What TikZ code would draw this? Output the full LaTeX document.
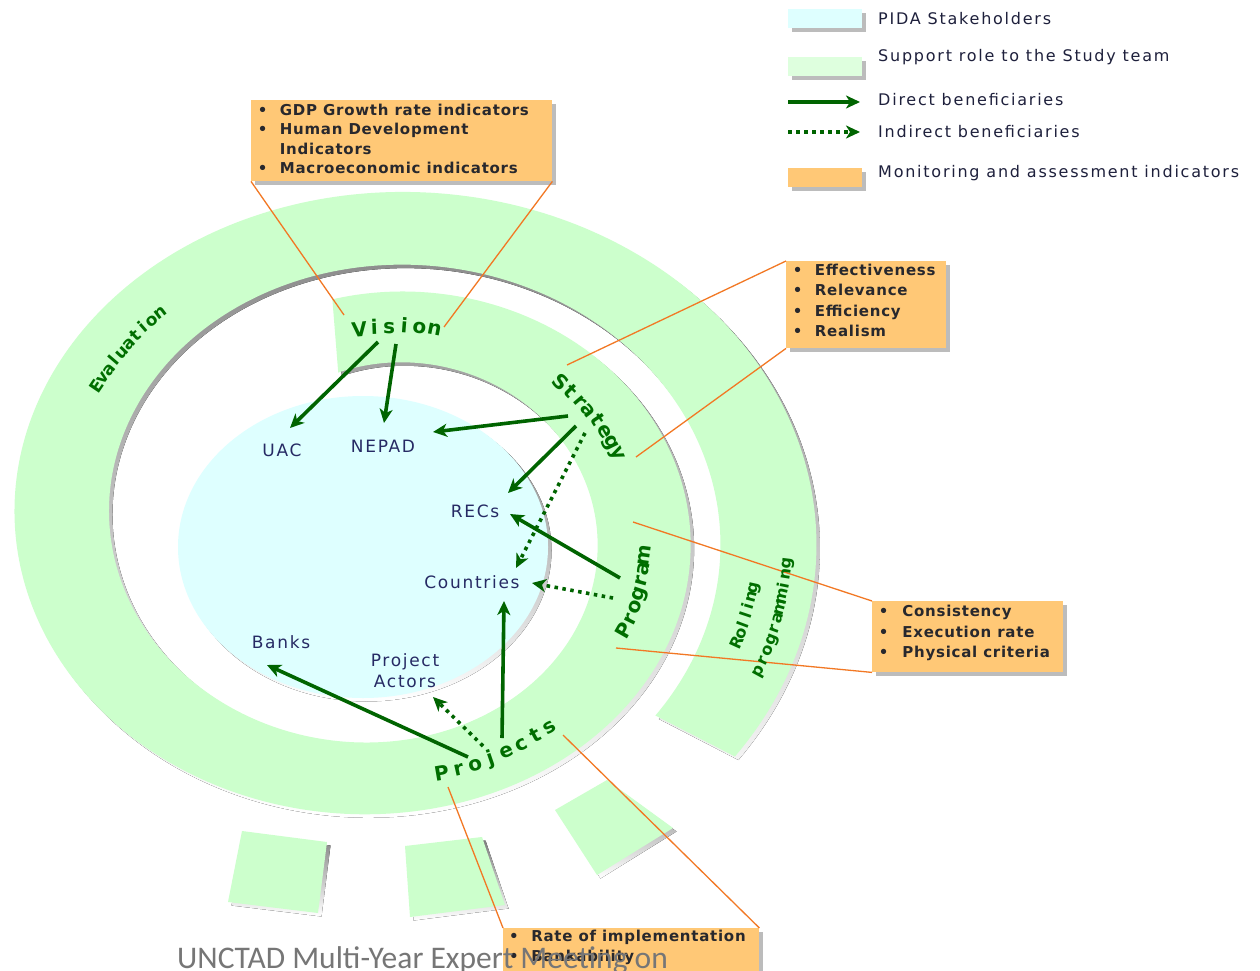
\documentclass[tikz,border=0pt]{standalone}
\usepackage{fontspec}
\setmainfont{DejaVu Sans}
\newfontfamily\legendfont{DejaVu Sans}[LetterSpace=11]
\newfontfamily\boxfont{DejaVu Sans}[LetterSpace=5]
\newfontfamily\actorfont{DejaVu Sans}[LetterSpace=10]
\newfontfamily\footfont{Carlito}
\usetikzlibrary{arrows.meta,shadows}

\definecolor{ringgreen}{RGB}{204,255,204}
\definecolor{swgreen}{RGB}{222,255,222}
\definecolor{stakecyan}{RGB}{222,255,255}
\definecolor{indorange}{RGB}{255,200,118}
\definecolor{leadorange}{RGB}{242,120,36}
\definecolor{arrowgreen}{RGB}{0,100,0}
\definecolor{ringtext}{RGB}{0,110,0}
\definecolor{actortext}{RGB}{38,42,100}
\definecolor{legendtext}{RGB}{30,32,60}
\definecolor{boxtext}{RGB}{40,40,45}
\definecolor{shade}{RGB}{188,188,188}
\definecolor{footgray}{RGB}{118,118,118}

\tikzset{
  direct/.style={draw=arrowgreen, line width=3.6pt, -{Stealth[length=14pt,width=13pt,inset=4pt]}},
  indirect/.style={direct, dash pattern=on 3.5pt off 4.5pt},
  lead/.style={draw=leadorange, line width=1.3pt},
  swatch/.style={anchor=north west, inner sep=0, minimum width=74, minimum height=19,
    drop shadow={shadow xshift=4pt, shadow yshift=-4pt, fill=shade, opacity=1}},
  indbox/.style={fill=indorange, anchor=north west, inner sep=0,
    drop shadow={shadow xshift=4pt, shadow yshift=-4pt, fill=shade, opacity=1}},
  boxtext/.style={anchor=base west, inner sep=0, font=\boxfont\bfseries, text=boxtext},
  legendlabel/.style={anchor=base west, inner sep=0, font=\legendfont\fontsize{16}{19}\selectfont, text=legendtext},
  actor/.style={inner sep=0, font=\actorfont\fontsize{17}{21}\selectfont, text=actortext, align=center},
  ringletter/.style={text=ringtext, inner sep=0, text height=12pt, text depth=0pt, anchor=center}
}

% spiral band: inner and outer edges, angle t measured clockwise from the top
\newcommand\spiralband[1]{%
  \fill[#1] plot[domain=-15:489,samples=400] ({384+rix(\x)*sin(\x)},{528-riy(\x)*cos(\x)})
    -- plot[domain=-11:488,samples=400] ({384+rox(477-\x)*sin(477-\x)},{528-roy(477-\x)*cos(477-\x)})
    -- cycle;}

% loose blocks continuing the spiral
\newcommand\ringpieces[1]{%
  \fill[#1] (242,831) -- (327,842) -- (318,913) -- (228,902) -- cycle;
  \fill[#1] (405,846) -- (482,837) -- (505,905) -- (410,917) -- cycle;
  \fill[#1] (555,810) -- (607,780) -- (673,828) -- (597,875) -- cycle;}

% letters set one by one along the band
% #1 name, #2 letters, #3 first angle, #4 step, #5 depth in band, #6 1=clockwise / -1=anticlockwise, #7 size
\newcommand\ringlabel[7]{%
  \foreach \ch [count=\i] in {#2} {%
    \pgfmathsetmacro\ringt{#3+(\i-1)*(#4)}%
    \pgfmathsetmacro\ringrx{rix(\ringt)+#5*(rox(\ringt)-rix(\ringt))}%
    \pgfmathsetmacro\ringry{riy(\ringt)+#5*(roy(\ringt)-riy(\ringt))}%
    \pgfmathsetmacro\ringrot{atan2(-(#6)*\ringry*sin(\ringt),(#6)*\ringrx*cos(\ringt))}%
    \node[ringletter, font=\bfseries\fontsize{#7}{#7}\selectfont, rotate=\ringrot]
      (#1-\i) at ({384+\ringrx*sin(\ringt)},{528-\ringry*cos(\ringt)}) {\ch};
  }}

\begin{document}
\begin{tikzpicture}[x=1pt,y=-1pt,
  declare function={rix(\t)=182+0.342*\t; riy(\t)=165+0.272*\t;
                    rox(\t)=274.5+0.35*\t; roy(\t)=236+0.277*\t;}]
\useasboundingbox (0,0) rectangle (1260,971);
\clip (0,0) rectangle (1260,971);
\fill[white] (0,0) rectangle (1260,971);

% spiral band and loose blocks
\spiralband{shade, shift={(3.5,3.5)}}
\ringpieces{shade, shift={(3.5,3.5)}}
\spiralband{ringgreen}
\ringpieces{ringgreen}

% stakeholders disc
\fill[shade] (366.5,550.5) ellipse[x radius=185, y radius=151];
\fill[stakecyan] (363,547) ellipse[x radius=185, y radius=151];

% indicator boxes
\node[indbox, minimum width=301, minimum height=81] (ind1) at (251,100) {};
\node[indbox, minimum width=160, minimum height=87] (ind2) at (786,261) {};
\node[indbox, minimum width=191, minimum height=71] (ind3) at (872,601) {};
\node[indbox, minimum width=256, minimum height=70] (ind4) at (503,928) {};

% lead lines from the boxes to the band
\coordinate (lead-vl) at (344,315);
\coordinate (lead-vr) at (444,327);
\coordinate (lead-st) at (567,365);
\coordinate (lead-sb) at (636,457);
\coordinate (lead-pt) at (633,522);
\coordinate (lead-pb) at (616,648);
\coordinate (lead-jl) at (448,787);
\coordinate (lead-jr) at (563,735);
\draw[lead] (ind1.south west) -- (lead-vl);
\draw[lead] (ind1.south east) -- (lead-vr);
\draw[lead] (ind2.north west) -- (lead-st);
\draw[lead] (ind2.south west) -- (lead-sb);
\draw[lead] (ind3.north west) -- (lead-pt);
\draw[lead] (ind3.south west) -- (lead-pb);
\draw[lead] (ind4.north west) -- (lead-jl);
\draw[lead] (ind4.north east) -- (lead-jr);

% band labels
\ringlabel{vision}{V,i,s,i,o,n}{-6.2}{3.75}{0.5}{1}{20}
\ringlabel{strategy}{S,t,r,a,t,e,g,y}{46.8}{3.3}{0.47}{1}{20}
\ringlabel{program}{P,r,o,g,r,a,m}{116.4}{-3.25}{0.5}{-1}{20}
\ringlabel{projects}{P,r,o,j,e,c,t,s}{168.6}{-3.45}{0.56}{-1}{20}
\ringlabel{evaluation}{E,v,a,l,u,a,t,i,o,n}{300}{2.05}{0.5}{1}{17}
\ringlabel{rolling}{R,o,l,l,i,n,g}{471}{-1.7}{0.36}{-1}{16}
\ringlabel{programming}{p,r,o,g,r,a,m,m,i,n,g}{474.5}{-1.85}{0.68}{-1}{16}

% stakeholders
\node[actor] (uac) at (282,450) {UAC};
\node[actor] (nepad) at (383,446) {NEPAD};
\node[actor] (recs) at (475,511) {RECs};
\node[actor] (countries) at (472,582) {Countries};
\node[actor] (banks) at (281,642) {Banks};
\node[actor] (actors) at (405,670.5) {Project\\Actors};

% arrow origins on the band
\coordinate (vis-a) at (378,342);
\coordinate (vis-b) at (396,344);
\coordinate (str-a) at (568,416);
\coordinate (str-b) at (576,426);
\coordinate (str-c) at (585,433);
\coordinate (prg-a) at (620,578);
\coordinate (prg-b) at (613,598);
\coordinate (prj-a) at (502,738);
\coordinate (prj-b) at (468,757);
\coordinate (prj-c) at (483,746);

% direct beneficiaries
\draw[direct] (vis-a) -- ([shift={(8,-22)}]uac.center);
\draw[direct] (vis-b) -- ([shift={(1,-23)}]nepad.center);
\draw[direct] (str-a) -- ([shift={(50,-14)}]nepad.center);
\draw[direct] (str-b) -- ([shift={(33,-18)}]recs.center);
\draw[direct] (prg-a) -- ([shift={(35,3)}]recs.center);
\draw[direct] (prj-a) -- ([shift={(32,19)}]countries.center);
\draw[direct] (prj-b) -- ([shift={(-14,23)}]banks.center);
% indirect beneficiaries
\draw[indirect] (str-c) -- ([shift={(44,-14)}]countries.center);
\draw[indirect] (prg-b) -- ([shift={(60,1)}]countries.center);
\draw[indirect] (prj-c) -- ([shift={(28,26.5)}]actors.center);

% indicator lists
\node[boxtext] (ind1-txt) at ([shift={(6.6,15.5)}]ind1.north west)
  {\fontsize{15}{19.4}\selectfont\begin{tabular}[t]{@{}l@{\hspace{12.5pt}}l@{}}
   •&GDP Growth rate indicators\\ •&Human Development\\ &Indicators\\ •&Macroeconomic indicators\end{tabular}};
\node[boxtext] (ind2-txt) at ([shift={(6.6,14.5)}]ind2.north west)
  {\fontsize{15}{20.4}\selectfont\begin{tabular}[t]{@{}l@{\hspace{12.5pt}}l@{}}
   •&Effectiveness\\ •&Relevance\\ •&Efficiency\\ •&Realism\end{tabular}};
\node[boxtext] (ind3-txt) at ([shift={(6.6,15.5)}]ind3.north west)
  {\fontsize{15}{20.5}\selectfont\begin{tabular}[t]{@{}l@{\hspace{14pt}}l@{}}
   •&Consistency\\ •&Execution rate\\ •&Physical criteria\end{tabular}};
\node[boxtext] (ind4-txt) at ([shift={(6,13.5)}]ind4.north west)
  {\fontsize{15}{20}\selectfont\begin{tabular}[t]{@{}l@{\hspace{12.5pt}}l@{}}
   •&Rate of implementation\\ •&Bankability\end{tabular}};

% legend
\node[swatch, fill=stakecyan] (sw-stake) at (788,9) {};
\node[swatch, fill=swgreen] (sw-support) at (788,57) {};
\node[swatch, fill=indorange] (sw-ind) at (788,168) {};
\coordinate (lg-d0) at (788,102);
\coordinate (lg-d1) at (860,102);
\coordinate (lg-i0) at (788,132);
\coordinate (lg-i1) at (860,132);
\draw[direct] (lg-d0) -- (lg-d1);
\draw[indirect] (lg-i0) -- (lg-i1);
\node[legendlabel] (lg-stake) at (878,25) {PIDA Stakeholders};
\node[legendlabel] (lg-support) at (878,62) {Support role to the Study team};
\node[legendlabel] (lg-direct) at (878,106) {Direct beneficiaries};
\node[legendlabel] (lg-indirect) at (878,137) {Indirect beneficiaries};
\node[legendlabel] (lg-ind) at (878,177) {Monitoring and assessment indicators};

% footer line
\node[anchor=base west, inner sep=0, font=\footfont\fontsize{31.5}{36}\selectfont, text=footgray]
  (footer) at (177,968) {UNCTAD Multi-Year Expert Meeting on};
\end{tikzpicture}
\end{document}
